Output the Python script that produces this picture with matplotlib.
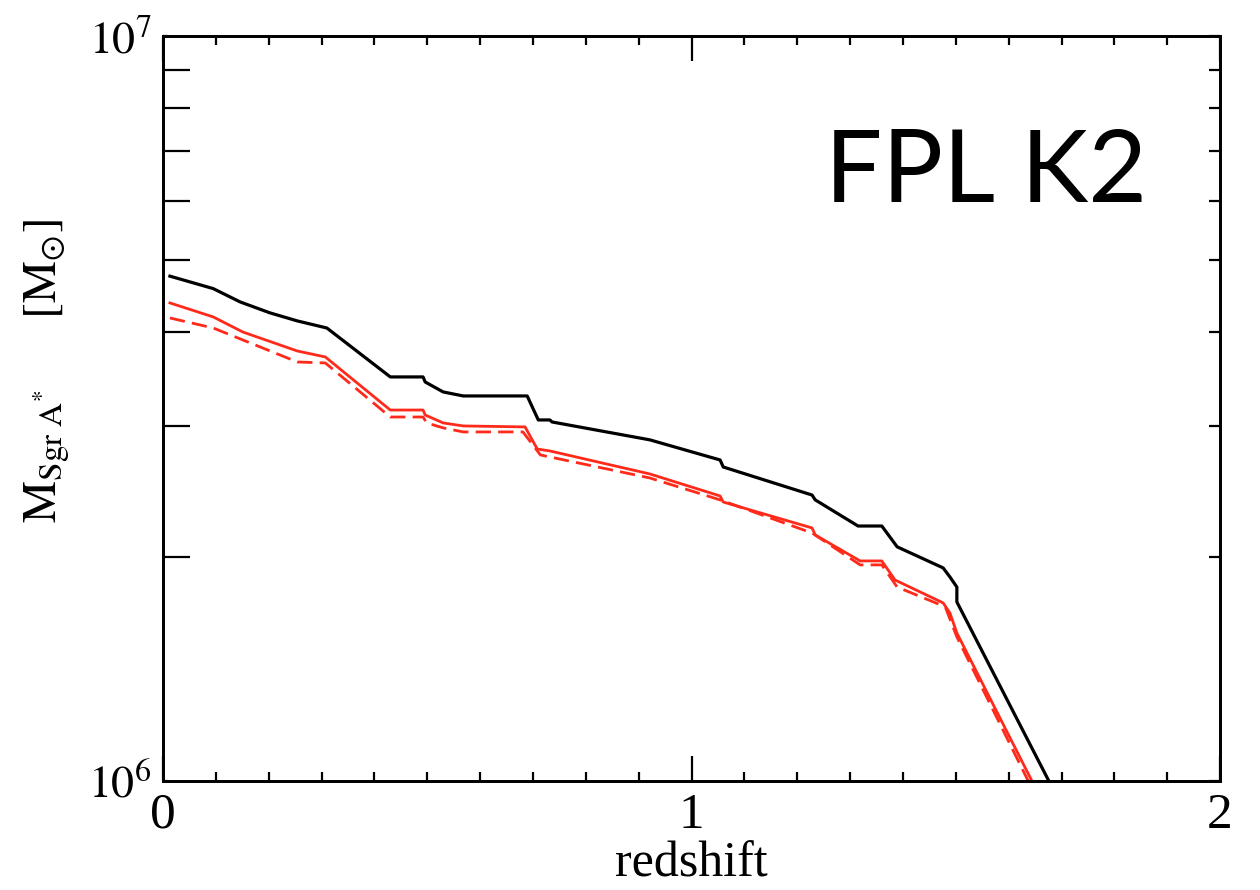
import numpy as np
import matplotlib.pyplot as plt
from matplotlib.ticker import FixedLocator, NullFormatter, MultipleLocator

plt.rcParams['font.family'] = ['Liberation Serif', 'DejaVu Serif']
plt.rcParams['mathtext.fontset'] = 'stix'

# black solid curve
z_black = [0.013, 0.095, 0.146, 0.202, 0.254, 0.310, 0.430, 0.492, 0.496, 0.530,
           0.568, 0.689, 0.710, 0.732, 0.736, 0.921, 1.054, 1.060, 1.228, 1.234,
           1.315, 1.360, 1.389, 1.476, 1.489, 1.502, 1.502, 1.676]
m_black = [4.76e6, 4.58e6, 4.395e6, 4.25e6, 4.145e6, 4.055e6, 3.486e6, 3.486e6, 3.432e6, 3.328e6,
           3.287e6, 3.287e6, 3.052e6, 3.052e6, 3.033e6, 2.870e6, 2.697e6, 2.639e6, 2.420e6, 2.384e6,
           2.199e6, 2.199e6, 2.062e6, 1.932e6, 1.878e6, 1.821e6, 1.739e6, 1.0e6]

# red solid curve
z_red = [0.013, 0.095, 0.151, 0.254, 0.307, 0.430, 0.492, 0.496, 0.530, 0.568,
         0.685, 0.708, 0.732, 0.921, 1.054, 1.060, 1.228, 1.234, 1.319, 1.360,
         1.385, 1.476, 1.489, 1.502, 1.644]
m_red = [4.382e6, 4.196e6, 4.005e6, 3.777e6, 3.708e6, 3.147e6, 3.147e6, 3.099e6, 3.024e6, 2.996e6,
         2.987e6, 2.790e6, 2.773e6, 2.583e6, 2.413e6, 2.368e6, 2.186e6, 2.139e6, 1.974e6, 1.974e6,
         1.861e6, 1.734e6, 1.680e6, 1.580e6, 1.0e6]

# red dashed curve
z_red_d = [0.013, 0.095, 0.254, 0.307, 0.430, 0.492, 0.499, 0.530, 0.568, 0.681,
           0.714, 0.921, 1.054, 1.228, 1.319, 1.360, 1.389, 1.480, 1.502, 1.637]
m_red_d = [4.183e6, 4.055e6, 3.651e6, 3.640e6, 3.080e6, 3.080e6, 3.024e6, 2.978e6, 2.941e6, 2.941e6,
           2.739e6, 2.551e6, 2.384e6, 2.152e6, 1.950e6, 1.950e6, 1.821e6, 1.713e6, 1.561e6, 1.0e6]

x_ticks = [0, 1, 2]
x_labels = ['0', '1', '2']
y_ticks = [1e6, 1e7]
y_labels = [r'$10^{6}$', r'$10^{7}$']

fig = plt.figure(figsize=(12.6, 8.9), dpi=100)
ax = fig.add_axes([0.1294, 0.1225, 0.8389, 0.8371])

ax.plot(z_black, m_black, color='black', lw=2.3)
ax.plot(z_red, m_red, color='#ff2a1a', lw=2.0)
ax.plot(z_red_d, m_red_d, color='#ff2a1a', lw=2.0, dashes=(5.5, 2.6))

ax.set_yscale('log')
ax.set_xlim(0, 2)
ax.set_ylim(1e6, 1e7)

ax.set_xticks(x_ticks)
ax.set_xticklabels(x_labels)
ax.xaxis.set_minor_locator(MultipleLocator(0.1))
ax.yaxis.set_major_locator(FixedLocator(y_ticks))
ax.set_yticklabels(y_labels)
ax.yaxis.set_minor_locator(FixedLocator(np.arange(2, 10) * 1e6))
ax.yaxis.set_minor_formatter(NullFormatter())

ax.tick_params(axis='x', which='both', direction='in', top=True, width=1.6, labelsize=37, pad=8)
ax.tick_params(axis='x', which='major', length=18)
ax.tick_params(axis='x', which='minor', length=6.5)
ax.tick_params(axis='y', which='both', direction='in', right=False, width=1.6, labelsize=33, pad=8)
ax.tick_params(axis='y', which='minor', length=19.5)

# shorter ticks on the right side
ax2 = ax.twinx()
ax2.set_yscale('log')
ax2.set_ylim(1e6, 1e7)
ax2.yaxis.set_major_locator(FixedLocator(y_ticks))
ax2.yaxis.set_minor_locator(FixedLocator(np.arange(2, 10) * 1e6))
ax2.yaxis.set_major_formatter(NullFormatter())
ax2.yaxis.set_minor_formatter(NullFormatter())
ax2.tick_params(axis='y', which='both', direction='in', width=1.6, length=8)

for a in (ax, ax2):
    for s in a.spines.values():
        s.set_linewidth(2.0)

ax.set_xlabel('redshift', fontsize=36, labelpad=2)
ax.set_ylabel(r'$\mathrm{M}_{\mathrm{Sgr\ A^{*}}}\qquad[\mathrm{M}_{\odot}]$', fontsize=34, labelpad=10)
ax.yaxis.set_label_coords(-0.086, 0.55)

ax.text(0.7786, 0.777, 'FPL K2', transform=ax.transAxes, fontsize=73,
        family=['Lato', 'DejaVu Sans'], ha='center', va='baseline')

fig.savefig('out.png', dpi=100)
